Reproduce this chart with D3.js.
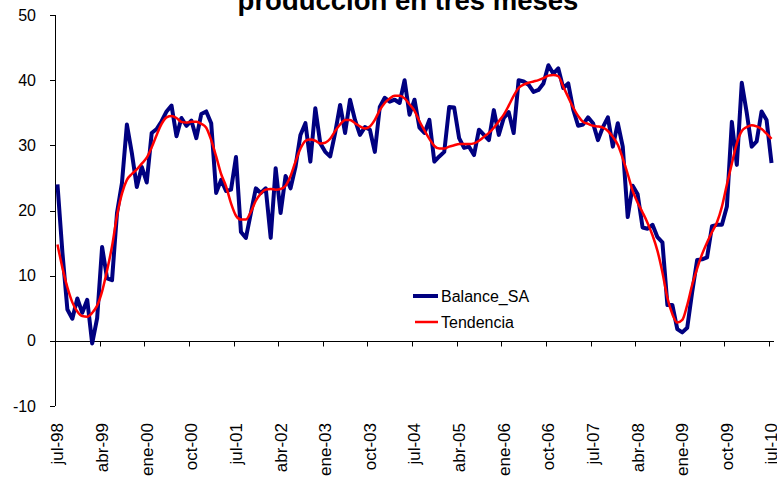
<!DOCTYPE html>
<html>
<head>
<meta charset="utf-8">
<script src="https://cdn.jsdelivr.net/npm/d3@7"></script>
<style>
  body { margin: 0; background: #fff; }
  svg { display: block; font-family: Arial, "Liberation Sans", sans-serif; }
</style>
</head>
<body>
<svg width="777" height="484"></svg>
<script>
// month names used to build the category labels (jul-98 .. jul-10)
const monthNames = ['ene', 'feb', 'mar', 'abr', 'may', 'jun', 'jul', 'ago', 'sep', 'oct', 'nov', 'dic'];

const balanceSA = [
    24.0, 13.5, 4.8, 3.4, 6.5, 4.3, 6.3, -0.4, 3.5, 14.4, 9.6, 9.3,
    19.6, 24.2, 33.2, 28.8, 23.6, 26.7, 24.3, 31.9, 32.5, 33.7, 35.2, 36.1,
    31.4, 34.2, 33.0, 33.8, 31.1, 34.8, 35.2, 33.4, 22.7, 24.7, 23.0, 23.2,
    28.2, 16.7, 15.8, 19.6, 23.4, 22.7, 23.4, 15.8, 26.5, 19.6, 25.3, 23.4,
    26.7, 31.6, 33.4, 27.5, 35.7, 30.3, 29.0, 28.3, 31.9, 36.2, 31.9, 37.0,
    33.9, 31.6, 32.8, 32.4, 29.0, 35.9, 37.3, 36.7, 37.0, 36.5, 40.0, 34.7,
    37.0, 32.7, 31.9, 33.9, 27.5, 28.3, 29.0, 35.9, 35.8, 31.1, 29.6, 29.8,
    28.5, 32.4, 31.6, 30.8, 35.4, 31.6, 34.2, 35.1, 31.9, 40.0, 39.8, 39.3,
    38.2, 38.5, 39.5, 42.3, 41.0, 41.8, 38.8, 39.5, 35.5, 33.0, 33.2, 34.3,
    33.4, 30.8, 32.8, 34.3, 29.8, 33.4, 29.8, 19.0, 23.8, 22.5, 17.4, 17.2,
    17.8, 15.9, 15.1, 5.5, 5.5, 1.8, 1.3, 2.0, 7.5, 12.4, 12.5, 12.8,
    17.6, 17.8, 17.8, 20.6, 33.6, 27.0, 39.6, 35.0, 29.8, 30.6, 35.2, 33.9,
    27.3
];

const tendencia = [
    14.8, 11.2, 8.2, 5.9, 4.5, 3.8, 3.7, 4.3, 5.4, 7.6, 10.8, 14.5,
    19.2, 22.6, 24.7, 25.6, 26.3, 27.2, 28.1, 29.7, 31.6, 33.3, 34.3, 34.5,
    34.2, 33.6, 33.5, 33.6, 33.6, 33.3, 32.7, 30.8, 28.3, 25.6, 23.7, 21.1,
    19.2, 18.6, 18.6, 19.8, 21.5, 22.6, 23.2, 23.3, 23.2, 23.3, 23.8, 25.3,
    27.5, 29.5, 30.7, 30.9, 30.7, 30.3, 30.4, 31.0, 32.2, 33.2, 33.9, 33.9,
    33.4, 32.9, 32.6, 32.9, 33.9, 35.4, 36.5, 37.2, 37.6, 37.6, 37.2, 36.3,
    35.3, 33.7, 32.3, 31.0, 29.9, 29.5, 29.5, 29.8, 30.0, 30.2, 30.2, 30.2,
    30.3, 30.7, 31.3, 31.9, 32.7, 33.7, 34.7, 36.1, 37.6, 38.8, 39.3, 39.6,
    39.8, 40.0, 40.3, 40.7, 40.8, 40.6, 39.0, 37.4, 35.8, 34.5, 33.6, 33.3,
    33.0, 32.9, 32.7, 32.2, 31.3, 30.1, 28.0, 25.6, 23.0, 21.2, 19.7, 18.1,
    16.2, 13.8, 10.5, 6.6, 4.1, 2.8, 3.2, 5.5, 8.6, 11.1, 13.3, 15.1,
    16.7, 18.2, 20.6, 24.0, 27.2, 30.3, 32.2, 32.8, 33.1, 32.9, 32.5, 31.8,
    31.0
];

const tickLabels = ['jul-98', 'abr-99', 'ene-00', 'oct-00', 'jul-01', 'abr-02', 'ene-03', 'oct-03',
    'jul-04', 'abr-05', 'ene-06', 'oct-06', 'jul-07', 'abr-08', 'ene-09', 'oct-09', 'jul-10'];
const yTicks = [-10, 0, 10, 20, 30, 40, 50];
const seriesNames = ['Balance_SA', 'Tendencia'];

// categories: one per month from jul-98
const categories = balanceSA.map((v, i) => {
    const m = (6 + i) % 12;
    const yr = (98 + Math.floor((6 + i) / 12)) % 100;
    return monthNames[m] + '-' + String(yr).padStart(2, '0');
});

const svg = d3.select('svg');

const x = d3.scaleBand().domain(categories).range([55, 774]);
const y = d3.scaleLinear().domain([-10, 50]).range([406, 15]);
const cx = c => x(c) + x.bandwidth() / 2;

// title (only the bottom line is visible in the picture)
svg.append('text')
    .attr('x', 408).attr('y', 9.5)
    .attr('text-anchor', 'middle')
    .attr('font-weight', 'bold')
    .attr('font-size', 27.5)
    .text('producción en tres meses');

// y axis
svg.append('line')
    .attr('x1', 55.5).attr('x2', 55.5)
    .attr('y1', y(50)).attr('y2', y(-10))
    .attr('stroke', '#000');

const yt = svg.selectAll('g.ytick').data(yTicks).enter().append('g').attr('class', 'ytick');
yt.append('line')
    .attr('x1', 50).attr('x2', 55)
    .attr('y1', d => Math.round(y(d)) + 0.5).attr('y2', d => Math.round(y(d)) + 0.5)
    .attr('stroke', '#000');
yt.append('text')
    .attr('x', 36).attr('y', d => y(d))
    .attr('dy', '0.35em')
    .attr('text-anchor', 'end')
    .attr('font-size', 16)
    .text(d => d);

// x axis on the zero line
const y0 = Math.round(y(0)) + 0.5;
svg.append('line')
    .attr('x1', 55).attr('x2', 774)
    .attr('y1', y0).attr('y2', y0)
    .attr('stroke', '#000');

const tickCats = categories.filter(c => tickLabels.includes(c));
svg.selectAll('line.xtick').data(tickCats.slice(1)).enter().append('line')
    .attr('class', 'xtick')
    .attr('x1', d => Math.round(x(d)) + 0.5).attr('x2', d => Math.round(x(d)) + 0.5)
    .attr('y1', y0).attr('y2', y0 + 5)
    .attr('stroke', '#000');

svg.selectAll('text.xlab').data(tickCats).enter().append('text')
    .attr('class', 'xlab')
    .attr('transform', d => `translate(${cx(d)},423) rotate(-90)`)
    .attr('dy', '0.35em')
    .attr('text-anchor', 'end')
    .attr('font-size', 17)
    .text(d => d);

// lines
const line = d3.line()
    .x((d, i) => cx(categories[i]))
    .y(d => y(d));

svg.append('path')
    .datum(balanceSA)
    .attr('d', line)
    .attr('fill', 'none')
    .attr('stroke', '#000080')
    .attr('stroke-width', 4)
    .attr('stroke-linejoin', 'round');

svg.append('path')
    .datum(tendencia)
    .attr('d', line.curve(d3.curveMonotoneX))
    .attr('fill', 'none')
    .attr('stroke', '#ff0000')
    .attr('stroke-width', 2.5)
    .attr('stroke-linejoin', 'round');

// legend
const legend = svg.selectAll('g.legend').data(seriesNames).enter().append('g')
    .attr('class', 'legend')
    .attr('transform', (d, i) => `translate(413,${296 + i * 26})`);
legend.append('line')
    .attr('x1', (d, i) => i ? 2 : 0).attr('x2', 25)
    .attr('stroke', (d, i) => i ? '#ff0000' : '#000080')
    .attr('stroke-width', (d, i) => i ? 2.5 : 4);
legend.append('text')
    .attr('x', 28).attr('dy', '0.35em')
    .attr('font-size', 16)
    .text(d => d);
</script>
</body>
</html>
